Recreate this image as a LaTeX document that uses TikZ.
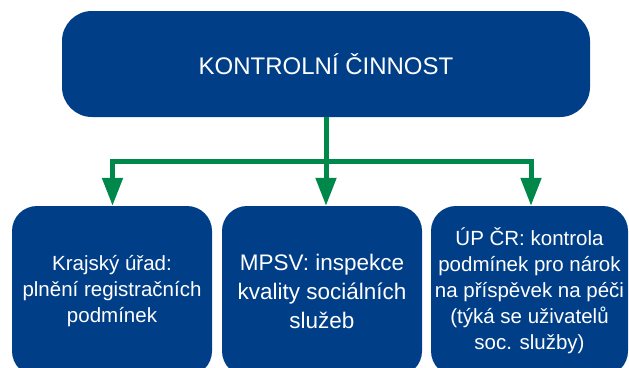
\documentclass[tikz,border=0pt]{standalone}
\usepackage{fontspec}
\setmainfont{Liberation Sans}
\usetikzlibrary{arrows.meta}
\definecolor{boxblue}{RGB}{0,63,135}
\definecolor{arrgreen}{RGB}{0,135,74}
\begin{document}
\begin{tikzpicture}[x=1pt,y=-1pt,
  topbox/.style={fill=boxblue, draw=none, rounded corners=30pt, text=white, align=center, inner sep=0pt,
    minimum width=528pt, minimum height=106pt, font={\fontsize{24}{29}\selectfont}},
  box/.style={fill=boxblue, draw=none, rounded corners=25pt, text=white, align=center, inner sep=0pt,
    minimum height=170pt, font={\fontsize{20.5}{26}\selectfont}},
  bigbox/.style={box, font={\fontsize{22.5}{29}\selectfont}},
  conn/.style={draw=arrgreen, line width=5pt, line join=miter},
  tip/.tip={Triangle[width=20pt,length=28pt]}]
\useasboundingbox (0,0) rectangle (629,367);
\node[topbox] (top) at (326,64) {KONTROLNÍ ČINNOST};
\node[box, minimum width=200pt] (b1) at (112,291) {Krajský úřad:\\plnění registračních\\podmínek};
\node[bigbox, minimum width=200pt] (b2) at (322,291) {MPSV: inspekce\\kvality sociálních\\služeb};
\node[box, minimum width=197pt] (b3) at (529.5,291) {ÚP ČR: kontrola\\podmínek pro nárok\\na příspěvek na péči\\(týká se uživatelů\\soc. služby)};
\coordinate (bl) at (112.5,161.5);
\coordinate (br) at (531,161.5);
\draw[conn, tip-tip] (b1.north -| bl) -- (bl) -- (br) -- (b3.north -| br);
\draw[conn, -tip] (top.south) -- (b2.north -| top.south);
\end{tikzpicture}
\end{document}
